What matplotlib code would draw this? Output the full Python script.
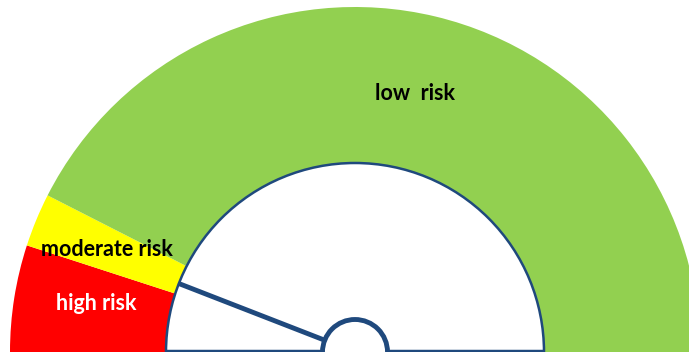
import numpy as np
import matplotlib.pyplot as plt
from matplotlib.patches import Wedge, Circle

# gauge scale in percent (0 = left end, 100 = right end)
labels = ['high risk', 'moderate risk', 'low  risk']
shares = [10, 5, 85]
colors = ['#FF0000', '#FFFF00', '#92D050']
text_colors = ['white', 'black', 'black']
needle_value = 11.8

cx, cy = 355, 0
r_out, r_in, r_hub = 345, 189, 32.5


def pct_to_deg(p):
    return 180 - p * 1.8


fig = plt.figure(figsize=(6.89, 3.52), dpi=100)
ax = fig.add_axes([0, 0, 1, 1])
ax.set_xlim(0, 689)
ax.set_ylim(0, 352)
ax.axis('off')

start = 0
for share, color in zip(shares, colors):
    t1 = pct_to_deg(start)
    t2 = pct_to_deg(start + share)
    ax.add_patch(Wedge((cx, cy), r_out, t2, t1, facecolor=color,
                       edgecolor='none', zorder=1))
    start += share

blue = '#1F497D'
ax.add_patch(Wedge((cx, cy), r_in, 0, 180, facecolor='white',
                   edgecolor=blue, linewidth=1.8, zorder=2))
ax.plot([cx - r_in, cx + r_in], [1.5, 1.5], color=blue, lw=2.5,
        solid_capstyle='butt', zorder=3)

ang = np.radians(pct_to_deg(needle_value))
ax.plot([cx, cx + r_in * np.cos(ang)], [cy, cy + r_in * np.sin(ang)],
        color=blue, lw=3.5, solid_capstyle='butt', zorder=3)
ax.add_patch(Circle((cx, cy), r_hub, facecolor='white', edgecolor=blue,
                    linewidth=3.5, zorder=4))

text_pos = [(96, 49), (107, 103), (415, 259)]
for label, (x, y), tc in zip(labels, text_pos, text_colors):
    ax.text(x, y, label, ha='center', va='center', fontsize=15.5,
            fontweight='bold', color=tc, family='Lato', zorder=5)

fig.savefig('out.png', dpi=100)
